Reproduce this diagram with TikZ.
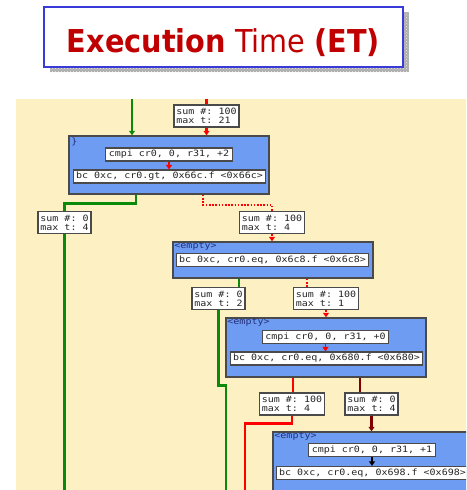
\documentclass[tikz,border=0pt]{standalone}
\usepackage{fontspec}
\setmainfont{DejaVu Sans}
\newfontfamily\pixfont[FakeStretch=1.15]{DejaVu Sans Mono}
\usetikzlibrary{arrows.meta,patterns}

\definecolor{beige}{HTML}{FDF0C2}
\definecolor{blockblue}{HTML}{6E9CF2}
\definecolor{edgegray}{HTML}{4A4A4A}
\definecolor{titlered}{HTML}{C00000}
\definecolor{titleblue}{HTML}{3A3AD8}
\definecolor{pathgreen}{HTML}{0A8A0A}
\definecolor{labelnavy}{HTML}{22307A}
\definecolor{darkred}{HTML}{800000}

\tikzset{
  codefont/.style={font=\pixfont\fontsize{8.7}{8.8}\selectfont\frenchspacing},
  stat/.style={codefont, draw=edgegray, line width=1.5pt, fill=white, text=black!85,
    align=left, inner xsep=2.5pt, inner ysep=1pt, minimum height=22pt},
  block/.style={draw=edgegray, line width=1.5pt, fill=blockblue, minimum width=200pt, inner sep=0pt},
  instr/.style={codefont, draw=edgegray, line width=1.2pt, fill=white, text=black!85,
    minimum height=13pt, inner xsep=3pt, inner ysep=0pt},
  blocklabel/.style={codefont, text=labelnavy, inner sep=0pt, anchor=north west},
  tip/.style={-{Triangle[width=6pt,length=4.5pt]}},
  gline/.style={draw=pathgreen, line width=2.6pt},
  rline/.style={draw=red, line width=2.6pt},
  rdot/.style={draw=red, line width=1.8pt, dash pattern=on 1.6pt off 1.6pt},
  drline/.style={draw=darkred, line width=2.6pt},
  kline/.style={draw=black, line width=1.4pt}
}

\begin{document}
\frenchspacing
\begin{tikzpicture}[x=1pt,y=-1pt]
\useasboundingbox (0,0) rectangle (466,490);
\clip (0,0) rectangle (466,490);

% title banner with its dotted shadow
\fill[gray!65] (50,12) rectangle (409,72);
\fill[pattern=crosshatch dots, pattern color=gray!15] (50,12) rectangle (409,72);
\node[draw=titleblue, line width=1.5pt, fill=white, minimum width=359pt, minimum height=60pt,
      inner sep=0pt] (title) at (223.5,37) {};
\node[anchor=base, inner sep=0pt, text=titlered] (titletext) at (223.5,52)
  {\resizebox{313pt}{\height}{\fontsize{31.5}{34}\selectfont\textbf{Execution} Time \textbf{(ET)}}};

% canvas
\fill[beige] (16,99) rectangle (470,495);

% entry points and exits at the canvas edges
\coordinate (gIn) at (132,99);
\coordinate (rIn) at (206.5,99);
\coordinate (gOut0) at (64.5,495);
\coordinate (gOut3) at (226,495);
\coordinate (rOut5) at (245,495);

% blocks
\node[block, minimum height=58pt] (B1) at (169,165) {};
\node[blocklabel] at ([shift={(3pt,-2pt)}]B1.north west) {\}};
\node[instr] (I1) at (169,154.5) {cmpi cr0, 0, r31, +2};
\node[instr] (I2) at (169.5,176.5) {bc 0xc, cr0.gt, 0x66c.f <0x66c>};

\node[block, minimum height=36pt] (B2) at (273,260) {};
\node[blocklabel] at ([shift={(2pt,-1pt)}]B2.north west) {<empty>};
\node[instr] (I3) at (272.5,260) {bc 0xc, cr0.eq, 0x6c8.f <0x6c8>};

\node[block, minimum height=59pt] (B3) at (326,347.5) {};
\node[blocklabel] at ([shift={(2pt,-1pt)}]B3.north west) {<empty>};
\node[instr] (I4) at (325.5,337) {cmpi cr0, 0, r31, +0};
\node[instr] (I5) at (326.5,358.5) {bc 0xc, cr0.eq, 0x680.f <0x680>};

\node[block, minimum height=59pt] (B4) at (373,461.5) {};
\node[blocklabel] at ([shift={(2pt,-1pt)}]B4.north west) {<empty>};
\node[instr] (I6) at (372,450) {cmpi cr0, 0, r31, +1};
\node[instr] (I7) at (372.5,473) {bc 0xc, cr0.eq, 0x698.f <0x698>};

% execution counters
\node[stat] (S1) at (206.5,116) {sum \#: 100\\max t: 21};
\node[stat] (S0) at (64.5,222.5) {sum \#: 0\\max t: 4};
\node[stat] (S2) at (272,222.5) {sum \#: 100\\max t: 4};
\node[stat] (S3) at (218.5,298.5) {sum \#: 0\\max t: 2};
\node[stat] (S4) at (326,298.5) {sum \#: 100\\max t: 1};
\node[stat] (S5) at (292,404) {sum \#: 100\\max t: 4};
\node[stat] (S6) at (371.5,404) {sum \#: 0\\max t: 4};

% control flow
\draw[gline, tip] (gIn) -- (gIn |- B1.north);
\draw[rline] (rIn) -- (S1.north);
\draw[rline, tip] (S1.south) -- (S1.south |- B1.north);
\draw[rline, tip, line width=1.4pt] (I1.south) -- (I1.south |- I2.north);

\draw[gline] ([xshift=-33pt]B1.south) -- ++(0,9) -| (S0.north);
\draw[gline] (S0.south) -- (gOut0);
\draw[rdot] ([xshift=34pt]B1.south) -- ++(0,10) -| (S2.north);
\draw[rdot, tip] (S2.south) -- (S2.south |- B2.north);

\draw[gline] ([xshift=-34pt]B2.south) -- ([xshift=-34pt]B2.south |- S3.north);
\draw[gline] (S3.south) -- ++(0,75) -| (gOut3);
\draw[rdot] ([xshift=34pt]B2.south) -- ([xshift=34pt]B2.south |- S4.north);
\draw[rdot, tip] (S4.south) -- (S4.south |- B3.north);
\draw[rline, tip, line width=1.4pt] (I4.south) -- (I4.south |- I5.north);

\draw[rline] ([xshift=-33pt]B3.south) -- ([xshift=-33pt]B3.south |- S5.north);
\draw[rline] (S5.south) -- ++(0,8) -| (rOut5);
\draw[drline] ([xshift=34pt]B3.south) -- ([xshift=34pt]B3.south |- S6.north);
\draw[drline, tip] (S6.south) -- (S6.south |- B4.north);
\draw[kline, tip] (I6.south) -- (I6.south |- I7.north);
\end{tikzpicture}
\end{document}
